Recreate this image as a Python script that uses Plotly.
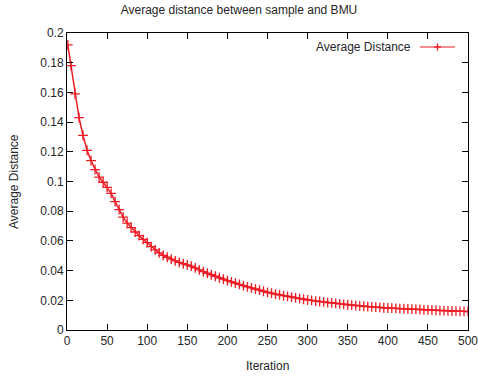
import plotly.graph_objects as go

# ---- data ----
iterations = [1, 5, 10, 15, 20, 25, 30, 35, 40, 45, 50, 55, 60, 65, 70, 75, 80, 85, 90, 95,
              100, 105, 110, 115, 120, 125, 130, 135, 140, 145, 150, 155, 160, 165, 170, 175,
              180, 185, 190, 195, 200, 205, 210, 215, 220, 225, 230, 235, 240, 245, 250, 255,
              260, 265, 270, 275, 280, 285, 290, 295, 300, 305, 310, 315, 320, 325, 330, 335,
              340, 345, 350, 355, 360, 365, 370, 375, 380, 385, 390, 395, 400, 405, 410, 415,
              420, 425, 430, 435, 440, 445, 450, 455, 460, 465, 470, 475, 480, 485, 490, 495, 500]
avg_distance = [0.192, 0.178, 0.159, 0.143, 0.131, 0.121, 0.114, 0.108, 0.103, 0.0995,
                0.0960, 0.0920, 0.0865, 0.0810, 0.0760, 0.0720, 0.0690, 0.0660, 0.0635, 0.0610,
                0.0588, 0.0562, 0.0540, 0.0520, 0.0503, 0.0490, 0.0477, 0.0466, 0.0455, 0.0446,
                0.0438, 0.0430, 0.0418, 0.0405, 0.0393, 0.0382, 0.0372, 0.0362, 0.0352, 0.0342,
                0.0333, 0.0324, 0.0315, 0.0307, 0.0299, 0.0291, 0.0283, 0.0276, 0.0269, 0.0261,
                0.0254, 0.0248, 0.0242, 0.0237, 0.0231, 0.0226, 0.0221, 0.0216, 0.0211, 0.0207,
                0.0202, 0.0199, 0.0195, 0.0192, 0.0189, 0.0185, 0.0182, 0.0179, 0.0176, 0.0173,
                0.0170, 0.0167, 0.0164, 0.0162, 0.0160, 0.0158, 0.0156, 0.0154, 0.0152, 0.0150,
                0.0148, 0.0147, 0.0146, 0.0144, 0.0143, 0.0142, 0.0140, 0.0139, 0.0138, 0.0136,
                0.0135, 0.0134, 0.0133, 0.0131, 0.0130, 0.0129, 0.0128, 0.0127, 0.0126, 0.0125,
                0.0124]
x_ticks = [0, 50, 100, 150, 200, 250, 300, 350, 400, 450, 500]
y_ticks = [0, 0.02, 0.04, 0.06, 0.08, 0.1, 0.12, 0.14, 0.16, 0.18, 0.2]
series_name = "Average Distance"

RED = "rgb(238,28,36)"
TXT = "#262626"
FONT = "Liberation Sans, Arial, sans-serif"
W, H = 478, 376
L, R, T, B = 67, 10, 33, 46

fig = go.Figure()
fig.add_trace(go.Scatter(
    x=iterations, y=avg_distance, mode="lines+markers", name=series_name,
    line=dict(color=RED, width=1.5),
    marker=dict(symbol="cross-thin", size=7, line=dict(color=RED, width=1.3)),
    showlegend=False,
))

axis_common = dict(
    automargin=False, ticklabeloverflow="allow",
    showgrid=False, zeroline=False, showline=True, linecolor="black", linewidth=1,
    mirror="ticks", ticks="inside", ticklen=6, tickcolor="black", tickwidth=1,
    tickfont=dict(family=FONT, size=12, color=TXT),
)
fig.update_xaxes(range=[0, 500], tickvals=x_ticks, **axis_common)
fig.update_yaxes(range=[0, 0.2], tickvals=y_ticks, **axis_common)

pw, ph = W - L - R, H - T - B
def px(x):  # pixel x -> paper
    return (x - L) / pw
def py(y):  # pixel y -> paper
    return (H - B - y) / ph

# axis titles
fig.add_annotation(xref="paper", yref="paper", x=0.5, y=py(366), text="Iteration",
                   showarrow=False, xanchor="center", yanchor="middle",
                   font=dict(family=FONT, size=12, color=TXT))
fig.add_annotation(xref="paper", yref="paper", x=px(14), y=py(181), text="Average Distance",
                   showarrow=False, xanchor="center", yanchor="middle", textangle=-90,
                   font=dict(family=FONT, size=12, color=TXT))

# legend drawn gnuplot-style: text, then line sample with a cross
ly = py(47)
fig.add_annotation(xref="paper", yref="paper", x=px(413), y=ly, text=series_name,
                   showarrow=False, xanchor="right", yanchor="middle",
                   font=dict(family=FONT, size=12, color=TXT))
fig.add_shape(type="line", xref="paper", yref="paper", x0=px(420), x1=px(455), y0=ly, y1=ly,
              line=dict(color=RED, width=1))
fig.add_shape(type="line", xref="paper", yref="paper", x0=px(434), x1=px(441), y0=ly, y1=ly,
              line=dict(color=RED, width=1.3))
fig.add_shape(type="line", xref="paper", yref="paper", x0=px(437.5), x1=px(437.5),
              y0=py(43.5), y1=py(50.5), line=dict(color=RED, width=1.3))

fig.update_layout(
    width=W, height=H,
    margin=dict(l=L, r=R, t=T, b=B),
    paper_bgcolor="white", plot_bgcolor="white",
    title=dict(text="Average distance between sample and BMU", x=px(267.5), xanchor="center",
               y=1 - 10 / H, yanchor="middle",
               font=dict(family=FONT, size=12, color=TXT)),
    font=dict(family=FONT, size=12, color=TXT),
)

fig.write_html("out.html", config={"displayModeBar": False},
               post_script="document.body.style.margin='0';")
